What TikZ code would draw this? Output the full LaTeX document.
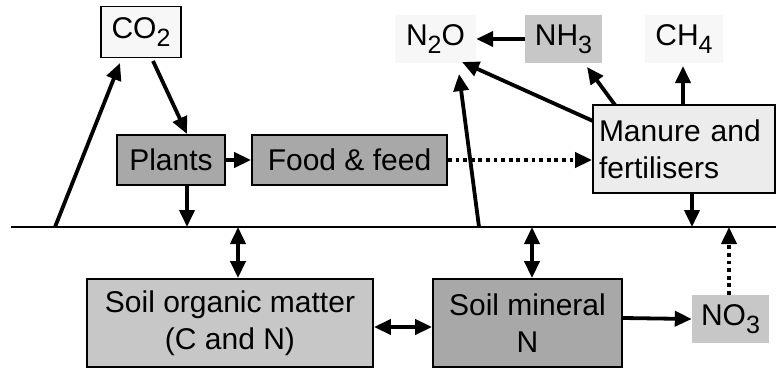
\documentclass[tikz,border=0pt]{standalone}
\usepackage{fontspec}
\setmainfont{Liberation Sans}
\usetikzlibrary{arrows.meta}
\newcommand\mysub[1]{\raisebox{-8pt}{\fontsize{25}{25}\selectfont #1}}
\begin{document}
\begin{tikzpicture}[x=1pt,y=-1pt,
  every node/.style={inner sep=0pt, font=\fontsize{30}{37}\selectfont, text=black},
  bx/.style={draw=black, line width=1.8pt, align=center},
  plain/.style={align=center},
  ar/.style={line width=3.8pt, -{Triangle[length=17pt,width=15pt]}},
  dar/.style={line width=3.8pt, {Triangle[length=17pt,width=15pt]}-{Triangle[length=17pt,width=15pt]}},
  dot/.style={line width=3.8pt, dash pattern=on 3.8pt off 3.8pt, -{Triangle[length=17pt,width=15pt]}}
]
\useasboundingbox (0,0) rectangle (776,369);
\definecolor{light}{gray}{0.97}
\definecolor{lgray}{gray}{0.925}
\definecolor{mgray}{gray}{0.78}
\definecolor{dgray}{gray}{0.66}

% ground line
\coordinate (L0) at (11,227);
\coordinate (L1) at (776,227);
\draw[line width=1.8pt] (L0) -- (L1);

% boxes
\node[bx, fill=light, minimum width=80pt, minimum height=51pt] (co2) at (141,32) {CO\mysub{2}};
\node[bx, fill=dgray, minimum width=108pt, minimum height=50pt] (plants) at (171,160) {Plants};
\node[bx, fill=dgray, minimum width=195pt, minimum height=50pt] (food) at (349.5,160) {Food \& feed};
\node[bx, fill=lgray, minimum width=182pt, minimum height=88pt, align=left, text width=170pt] (man) at (684,149) {Manure and\\fertilisers};
\node[plain, fill=light, minimum width=81pt, minimum height=48pt] (n2o) at (435.5,39) {N\mysub{2}O};
\node[plain, fill=mgray, minimum width=77pt, minimum height=48pt] (nh3) at (563.5,39) {NH\mysub{3}};
\node[plain, fill=light, minimum width=78pt, minimum height=48pt] (ch4) at (684,39) {CH\mysub{4}};
\node[bx, fill=mgray, minimum width=286pt, minimum height=88pt] (som) at (230,323) {Soil organic matter\\(C and N)};
\node[bx, fill=dgray, minimum width=189pt, minimum height=88pt] (smn) at (527.5,323) {Soil mineral\\N};
\node[plain, fill=mgray, minimum width=77pt, minimum height=48pt] (no3) at (730.5,319) {NO\mysub{3}};

% connector end points on the ground line
\coordinate (g1) at (55,227);
\coordinate (g2) at (187,227);
\coordinate (g3) at (238,227);
\coordinate (g4) at (479,227);
\coordinate (g5) at (532,227);
\coordinate (g6) at (692,227);
\coordinate (g7) at (729,227);

% arrows
\draw[ar] (g1) -- (120,63);
\draw[ar] (153,61) -- (187,134);
\draw[ar] (plants.east) -- (food.west);
\draw[ar] (plants.south -| g2) -- (g2);
\draw[dot] (food.east) -- (man.west |- food.east);
\draw[ar] (g4) -- (459,74);
\draw[ar] (nh3.west) -- (n2o.east);
\draw[ar] (593,121) -- (462,62);
\draw[ar] (615,105) -- (587,67);
\draw[ar] (683,105) -- (683,66);
\draw[ar] (man.south -| g6) -- (g6);
\draw[dar] (g3) -- (som.north -| g3);
\draw[dar] (g5) -- (smn.north -| g5);
\draw[dar] (som.east |- 0,327) -- (smn.west |- 0,327);
\draw[ar] (smn.east |- 0,318) -- (no3.west);
\draw[dot] (no3.north -| g7) -- (g7);
\end{tikzpicture}
\end{document}
